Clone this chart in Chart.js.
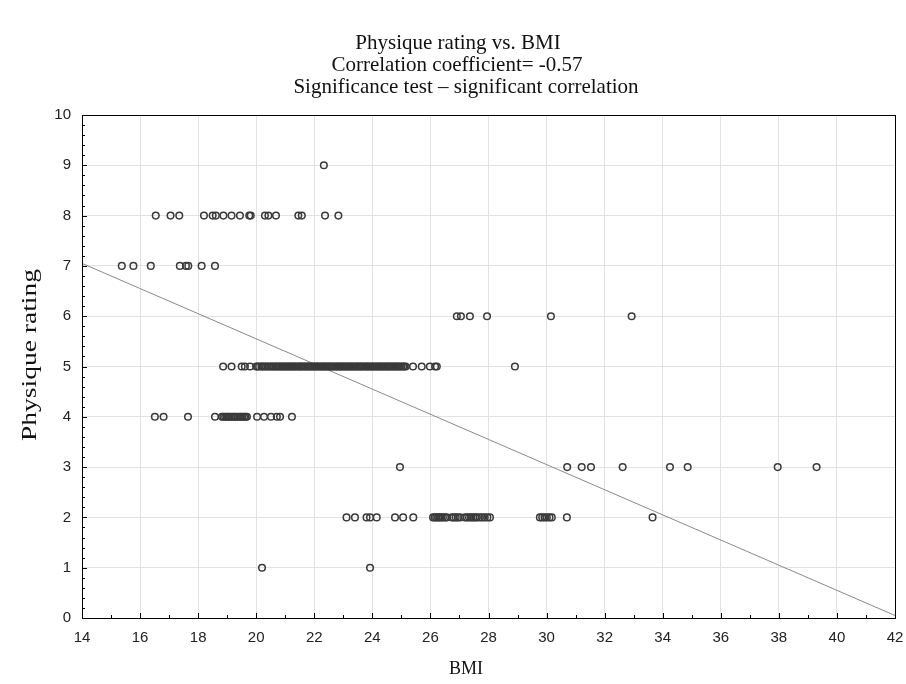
<!DOCTYPE html>
<html>
<head>
<meta charset="utf-8">
<title>Physique rating vs. BMI</title>
<script src="https://cdn.jsdelivr.net/npm/chart.js@4.4.1/dist/chart.umd.min.js"></script>
<style>
  html, body { margin: 0; padding: 0; background: #ffffff; }
  #wrap { width: 906px; height: 684px; }
</style>
</head>
<body>
<div id="wrap"><canvas id="physiqueChart" width="906" height="684"></canvas></div>
<script>
// BMI values, one array per physique rating
const bmiRating9 = [22.33];
const bmiRating8 = [16.54, 17.05, 17.35, 18.20, 18.50, 18.61, 18.87, 19.15, 19.44, 19.76, 19.81,
    20.30, 20.42, 20.68, 21.45, 21.57, 22.37, 22.83];
const bmiRating7 = [15.37, 15.77, 16.37, 17.37, 17.58, 17.66, 18.12, 18.58];
const bmiRating6 = [26.91, 27.05, 27.36, 27.95, 30.15, 32.93];
const bmiRating5 = [18.86, 19.15, 19.50, 19.61, 19.79,
    20.00, 20.05, 20.10, 20.18, 20.22, 20.27, 20.33, 20.38, 20.44, 20.50, 20.55, 20.60, 20.66,
    20.70, 20.75, 20.80, 20.86, 20.90, 20.95, 21.00, 21.05, 21.10, 21.16, 21.20, 21.25, 21.30,
    21.35, 21.40, 21.46, 21.50, 21.55, 21.60, 21.65, 21.70, 21.76, 21.80, 21.85, 21.90, 21.96,
    22.00, 22.06, 22.10, 22.15, 22.20, 22.26, 22.30, 22.35, 22.40, 22.46, 22.50, 22.55, 22.60,
    22.65, 22.70, 22.76, 22.80, 22.85, 22.90, 22.95, 23.00, 23.05, 23.10, 23.16, 23.20, 23.25,
    23.30, 23.35, 23.40, 23.46, 23.50, 23.55, 23.60, 23.65, 23.70, 23.76, 23.80, 23.85, 23.90,
    23.95, 24.00, 24.05, 24.10, 24.16, 24.20, 24.25, 24.30, 24.35, 24.40, 24.46, 24.50, 24.55,
    24.60, 24.65, 24.70, 24.76, 24.80, 24.85, 24.90, 24.95, 25.00, 25.06, 25.10, 25.15,
    25.40, 25.70, 25.98, 26.16, 26.22, 28.91];
const bmiRating4 = [16.51, 16.81, 17.65, 18.58, 18.82, 18.87, 18.93, 18.98, 19.03, 19.08, 19.14,
    19.20, 19.25, 19.30, 19.36, 19.42, 19.47, 19.52, 19.58, 19.63, 19.68, 20.03, 20.27, 20.51,
    20.71, 20.82, 21.23];
const bmiRating3 = [24.95, 30.71, 31.21, 31.53, 32.62, 34.25, 34.86, 37.96, 39.30];
const bmiRating2 = [23.11, 23.40, 23.80, 23.92, 24.15, 24.78, 25.06, 25.41,
    26.09, 26.15, 26.20, 26.26, 26.31, 26.37, 26.43, 26.50, 26.56,
    26.74, 26.80, 26.87, 26.94, 27.02,
    27.19, 27.26, 27.33, 27.40, 27.47, 27.54, 27.60,
    27.70, 27.78, 27.87, 27.96, 28.05,
    29.77, 29.85, 29.93, 30.01, 30.10, 30.18, 30.70, 33.65];
const bmiRating1 = [20.20, 23.92];

// fitted regression line end points
const fitX = [14, 42];
const fitY = [7.05, 0.05];

const xTicks = [14, 16, 18, 20, 22, 24, 26, 28, 30, 32, 34, 36, 38, 40, 42];
const yTicks = [0, 1, 2, 3, 4, 5, 6, 7, 8, 9, 10];

const titleLines = ['Physique rating vs. BMI', 'Correlation coefficient= -0.57',
    'Significance test \u2013 significant correlation'];

const groups = [
    [9, bmiRating9], [8, bmiRating8], [7, bmiRating7], [6, bmiRating6], [5, bmiRating5],
    [4, bmiRating4], [3, bmiRating3], [2, bmiRating2], [1, bmiRating1]
];
const points = [];
groups.forEach(([rating, list]) => {
    list.forEach(b => points.push({ x: b, y: rating }));
});

const serif = '"Liberation Serif", "Times New Roman", serif';

// frame, inward ticks and the text around the plot
const framePlugin = {
    id: 'frame',
    afterDatasetsDraw(chart) {
        const { ctx, chartArea: a, scales } = chart;
        ctx.save();
        ctx.strokeStyle = '#000';
        ctx.lineWidth = 1;
        ctx.strokeRect(Math.round(a.left) + 0.5, Math.round(a.top) + 0.5,
            Math.round(a.right - a.left), Math.round(a.bottom - a.top));
        ctx.beginPath();
        for (let v = 14; v <= 42; v += 1) {
            const px = Math.round(scales.x.getPixelForValue(v)) + 0.5;
            const len = v % 2 === 0 ? 5 : 3;
            ctx.moveTo(px, a.bottom);
            ctx.lineTo(px, a.bottom - len);
        }
        for (let i = 0; i <= 50; i++) {
            const py = Math.round(scales.y.getPixelForValue(i / 5)) + 0.5;
            const len = i % 5 === 0 ? 5 : 3;
            ctx.moveTo(a.left, py);
            ctx.lineTo(a.left + len, py);
        }
        ctx.stroke();
        ctx.restore();
    },
    afterDraw(chart) {
        const { ctx } = chart;
        ctx.save();
        ctx.fillStyle = '#111';
        ctx.textAlign = 'center';
        ctx.textBaseline = 'middle';
        ctx.font = '21px ' + serif;
        const centers = [458, 457, 466];
        titleLines.forEach((line, i) => ctx.fillText(line, centers[i], 43 + i * 22));
        ctx.font = '18px ' + serif;
        ctx.fillText('BMI', 466, 669);
        ctx.font = '20px ' + serif;
        ctx.translate(31, 355);
        ctx.rotate(-Math.PI / 2);
        const w = ctx.measureText('Physique rating').width;
        ctx.scale(172 / w, 1);
        ctx.fillText('Physique rating', 0, 0);
        ctx.restore();
    }
};

const ctx = document.getElementById('physiqueChart').getContext('2d');
const physiqueChart = new Chart(ctx, {
    type: 'scatter',
    data: {
        datasets: [{
            label: 'Physique rating',
            data: points,
            pointStyle: 'circle',
            pointRadius: 3.3,
            pointBorderWidth: 1.5,
            borderColor: '#3a3a3a',
            backgroundColor: 'rgba(0,0,0,0)'
        }, {
            type: 'line',
            label: 'Fit',
            data: fitX.map((x, i) => ({ x: x, y: fitY[i] })),
            borderColor: '#8a8a8a',
            borderWidth: 1,
            pointRadius: 0,
            fill: false
        }]
    },
    options: {
        responsive: false,
        animation: false,
        layout: { padding: { top: 115, right: 11, left: 0, bottom: 0 } },
        plugins: {
            legend: { display: false },
            title: { display: false },
            tooltip: { enabled: false }
        },
        scales: {
            x: {
                type: 'linear',
                min: 14,
                max: 42,
                afterFit(scale) {
                    scale.height = 66;
                    scale.paddingLeft = 0;
                    scale.paddingRight = 0;
                },
                afterBuildTicks(scale) { scale.ticks = xTicks.map(v => ({ value: v })); },
                grid: { color: '#e2e2e2', drawTicks: false },
                border: { color: '#000' },
                ticks: {
                    padding: 11,
                    color: '#222',
                    font: { family: '"Liberation Sans", Arial, sans-serif', size: 15 }
                }
            },
            y: {
                type: 'linear',
                min: 0,
                max: 10,
                afterFit(scale) {
                    scale.width = 82;
                    scale.paddingTop = 0;
                    scale.paddingBottom = 0;
                },
                afterBuildTicks(scale) { scale.ticks = yTicks.map(v => ({ value: v })); },
                grid: { color: '#e2e2e2', drawTicks: false },
                border: { color: '#000' },
                ticks: {
                    padding: 11,
                    color: '#222',
                    font: { family: '"Liberation Sans", Arial, sans-serif', size: 15 }
                }
            }
        }
    },
    plugins: [framePlugin]
});
</script>
</body>
</html>
